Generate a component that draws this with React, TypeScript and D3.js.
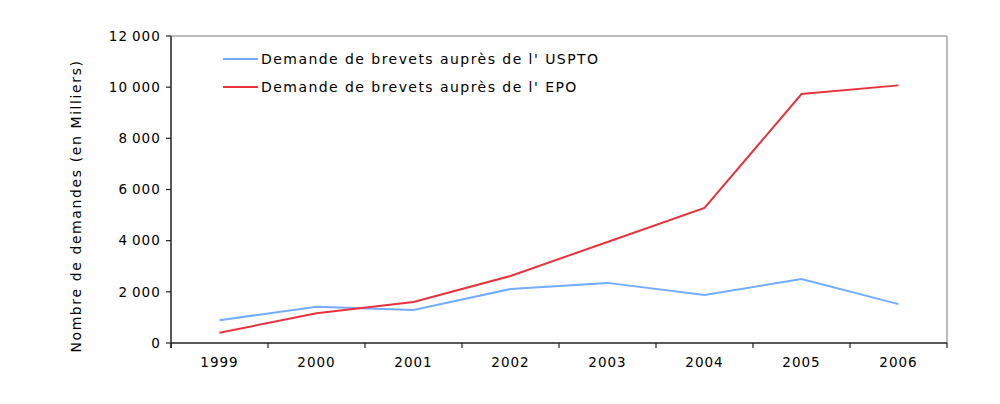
import React from "react";
import * as d3 from "d3";

const years = ["1999", "2000", "2001", "2002", "2003", "2004", "2005", "2006"];
const usptoValues = [890, 1420, 1290, 2110, 2350, 1880, 2500, 1520];
const epoValues = [400, 1160, 1600, 2620, 3950, 5280, 9730, 10070];
const yTicks = [0, 2000, 4000, 6000, 8000, 10000, 12000];
const seriesNames = ["Demande de brevets auprès de l' USPTO", "Demande de brevets auprès de l' EPO"];
const seriesColors = ["#74adff", "#e8333d"];

export default function App() {
  const W = 1000, H = 404;
  const left = 171, right = 947, top = 36, bottom = 343;
  const x = d3.scaleBand<string>().domain(years).range([left, right]);
  const y = d3.scaleLinear().domain([0, 12000]).range([bottom, top]);
  const line = d3
    .line<number>()
    .x((_, i) => (x(years[i]) as number) + x.bandwidth() / 2)
    .y((d) => y(d));
  const font = "'DejaVu Sans', Verdana, sans-serif";
  const fs = 13.5;
  const fmt = (v: number) => {
    const s = v.toString();
    return s.length > 3 ? s.slice(0, s.length - 3) + "\u2009" + s.slice(s.length - 3) : s;
  };
  return (
    <svg width={W} height={H} style={{ position: "absolute", left: 0, top: 0, background: "#fff" }}>
      <rect x={0} y={0} width={W} height={H} fill="#fff" />
      {/* plot border */}
      <line x1={left} x2={right} y1={top} y2={top} stroke="#a6a6a6" strokeWidth={1.5} />
      <line x1={right} x2={right} y1={top} y2={bottom} stroke="#a6a6a6" strokeWidth={1.5} />
      {/* y axis */}
      <line x1={left} x2={left} y1={top} y2={bottom + 5} stroke="#222" strokeWidth={1.5} />
      {yTicks.map((t) => (
        <g key={t}>
          <line x1={left - 5} x2={left} y1={y(t)} y2={y(t)} stroke="#222" strokeWidth={1.2} />
          <text x={left - 10} y={y(t)} dy="0.35em" textAnchor="end" fontFamily={font} fontSize={fs} fill="#000" letterSpacing={1.1}>
            {fmt(t)}
          </text>
        </g>
      ))}
      {/* x axis */}
      <line x1={left} x2={right} y1={bottom} y2={bottom} stroke="#222" strokeWidth={1.5} />
      {years.map((yr) => (
        <g key={yr}>
          <line x1={x(yr) as number} x2={x(yr) as number} y1={bottom} y2={bottom + 5} stroke="#222" strokeWidth={1.2} />
          <text x={(x(yr) as number) + x.bandwidth() / 2} y={bottom + 24} textAnchor="middle" fontFamily={font} fontSize={fs} fill="#000" letterSpacing={1}>
            {yr}
          </text>
        </g>
      ))}
      <line x1={right} x2={right} y1={bottom} y2={bottom + 5} stroke="#222" strokeWidth={1.2} />
      {/* y title */}
      <text transform={`translate(81,${206}) rotate(-90)`} textAnchor="middle" fontFamily={font} fontSize={14} fill="#000" letterSpacing={1.6}>
        Nombre de demandes (en Milliers)
      </text>
      {/* lines */}
      <path d={line(usptoValues) || ""} fill="none" stroke={seriesColors[0]} strokeWidth={2} />
      <path d={line(epoValues) || ""} fill="none" stroke={seriesColors[1]} strokeWidth={2} />
      {/* legend */}
      {seriesNames.map((n, i) => (
        <g key={n}>
          <line x1={223} x2={258} y1={59 + i * 28} y2={59 + i * 28} stroke={seriesColors[i]} strokeWidth={2} />
          <text x={261} y={59 + i * 28} dy="0.35em" fontFamily={font} fontSize={14} fill="#000" letterSpacing={1.45}>
            {n}
          </text>
        </g>
      ))}
    </svg>
  );
}
